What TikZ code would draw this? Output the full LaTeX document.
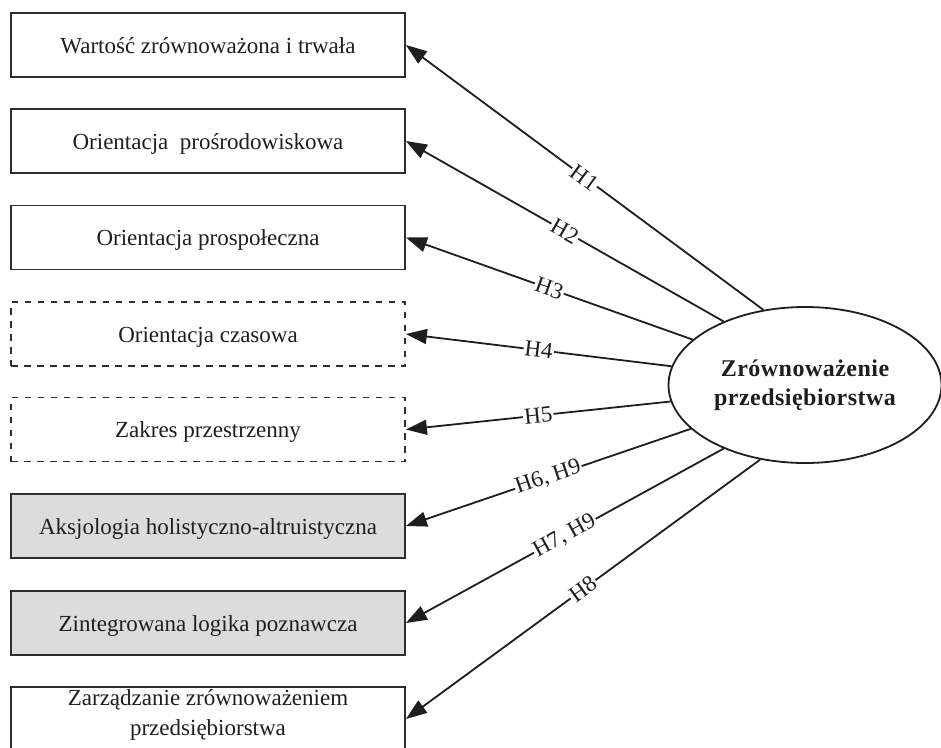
\documentclass[tikz,border=0pt]{standalone}
\usepackage{fontspec}
\setmainfont{Liberation Serif}
\usetikzlibrary{shapes.geometric,arrows.meta}
\definecolor{boxgrey}{HTML}{DCDCDD}
\definecolor{ink}{HTML}{1E1E1E}

\begin{document}
\begin{tikzpicture}[x=1pt,y=-1pt,
  every node/.style={text=ink},
  factor/.style={draw=black!82, line width=1.8pt, minimum width=394pt,
    minimum height=64pt, inner sep=0pt, text height=20pt, text depth=4pt,
    font=\fontsize{23}{30}\selectfont},
  solidbox/.style={factor},
  dashbox/.style={factor, dash pattern=on 6.5pt off 6.5pt},
  greybox/.style={factor, fill=boxgrey},
  twoline/.style={factor, align=center, text height=48pt, text depth=16pt},
  hub/.style={ellipse, draw=ink, line width=1.8pt, minimum width=273pt,
    minimum height=156pt, inner sep=0pt, align=center,
    font=\fontsize{24}{29}\selectfont\bfseries\addfontfeatures{LetterSpace=2}},
  link/.style={draw=ink, line width=1.8pt, -{Triangle[length=21pt,width=15pt]}},
  hyp/.style={midway, sloped, fill=white, inner sep=1.2pt,
    font=\fontsize{23}{28}\selectfont}
]
\useasboundingbox (0,0) rectangle (941,747);
\clip (0,0) rectangle (941,747);

% variables on the left
\node[solidbox] (v1) at (208,45)    {Wartość zrównoważona i trwała};
\node[solidbox] (v2) at (208,141)   {Orientacja\ \ prośrodowiskowa};
\node[solidbox] (v3) at (208,237.5) {Orientacja prospołeczna};
\node[dashbox]  (v4) at (208,334)   {Orientacja czasowa};
\node[dashbox]  (v5) at (208,429.5) {Zakres przestrzenny};
\node[greybox]  (v6) at (208,526)   {Aksjologia holistyczno-altruistyczna};
\node[greybox]  (v7) at (208,623)   {Zintegrowana logika poznawcza};
\node[twoline]  (v8) at (208,719)   {Zarządzanie zrównoważeniem\\przedsiębiorstwa};

% central construct
\node[hub] (core) at (805,385) {Zrównoważenie\\przedsiębiorstwa};

% hypotheses
\draw[link] (core.119) -- node[hyp]{H1} (v1.east);
\draw[link] (core.142) -- node[hyp]{H2} (v2.east);
\draw[link] (core.158) -- node[hyp]{H3} (v3.east);
\draw[link] (core.172) -- node[hyp]{H4} (v4.east);
\draw[link] (core.187) -- node[hyp]{H5} (v5.east);
\draw[link] (core.201) -- node[hyp]{H6, H9} (v6.east);
\draw[link] (core.218) -- node[hyp]{H7, H9} (v7.east);
\draw[link] (core.239) -- node[hyp]{H8} (v8.east);
\end{tikzpicture}
\end{document}
